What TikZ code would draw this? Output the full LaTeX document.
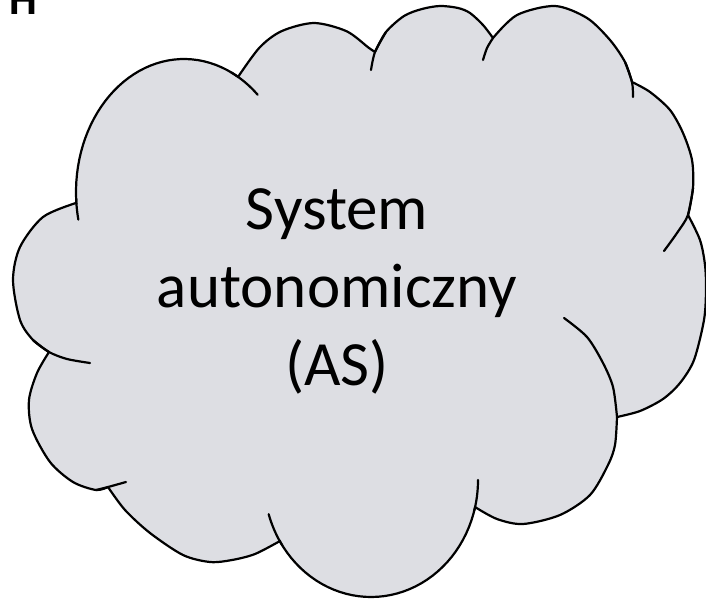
\documentclass[tikz,border=0pt]{standalone}
\usepackage{fontspec}
\setmainfont{Carlito}
\definecolor{cloudfill}{RGB}{221,222,227}
\begin{document}
\begin{tikzpicture}[x=1pt,y=-1pt,
  cloudline/.style={line width=2.2pt, line join=round, line cap=round, draw=black},
  lbl/.style={font=\fontsize{63}{76}\selectfont, inner sep=0pt, anchor=base, text=black}]
\useasboundingbox (0,0) rectangle (706,599);
\begin{scope}
\clip (0,0) rectangle (706,599);
\node[font=\fontsize{44}{50}\selectfont\bfseries, inner sep=0pt, anchor=base west] (hl) at (9,15) {H};
% cloud body
\path[cloudline, fill=cloudfill]
 plot[domain=175:300, samples=40] ({184+108*cos(\x)},{192+133*sin(\x)})
 -- plot[smooth] coordinates {(238,77)(259.5,47.6)(281.5,31.2)(314,23)(346.5,31.2)(368.5,47.6)(375,52)}
 -- plot[smooth] coordinates {(375,52)(386,32)(404,16)(422,9)(440,6)(458,8)(470,13)(483,25)(493,38)}
 -- plot[smooth] coordinates {(493,38)(517,15)(555,6)(587,18)(610,40)(625,62)(632,82)}
 -- plot[smooth] coordinates {(632,82)(650,92)(670,110)(683,133)(692,160)(693,188)(688,215)}
 -- plot[smooth] coordinates {(688,215)(700,240)(705,265)(706,290)(704,320)(694,360)(680,383)(663,399)(640,411)(617,417)}
 -- plot[smooth] coordinates {(617,417)(615,445)(608,465)(590,495)(560,515)(523,524)(497,519)(475,507)}
 -- plot[domain=13.4:148.6, samples=40] ({371+107*cos(\x)},{480+117*sin(\x)})
 -- plot[smooth] coordinates {(280,541)(255,554)(232,560)(210,562)(183,555)(150,533)(125,510)(108,487)}
 -- plot[smooth] coordinates {(108,487)(96,490)(73,482)(50,462)(32,429)(29,400)(37,373)(49,352)}
 -- plot[smooth] coordinates {(49,352)(33,340)(20,320)(13,280)(20,247)(43,217)(76,203)}
 -- cycle;
% inner ticks
\draw[cloudline] plot[domain=168:177, samples=10] ({184+108*cos(\x)},{192+133*sin(\x)});
\draw[cloudline] plot[domain=296:313, samples=12] ({184+108*cos(\x)},{192+133*sin(\x)});
\draw[cloudline] plot[smooth] coordinates {(371,70)(375,52)(386,32)};
\draw[cloudline] plot[smooth] coordinates {(483,60)(487,48)(493,38)};
\draw[cloudline] plot[smooth] coordinates {(625,62)(632,82)(633,97)};
\draw[cloudline] plot[smooth] coordinates {(693,188)(688,215)(677,233)(664,251)};
\draw[cloudline] plot[smooth] coordinates {(564,318)(587,337)(603,363)(613,387)(617,417)};
\draw[cloudline] plot[domain=0:15, samples=10] ({371+107*cos(\x)},{480+117*sin(\x)});
\draw[cloudline] plot[domain=146:163, samples=10] ({371+107*cos(\x)},{480+117*sin(\x)});
\draw[cloudline] plot[smooth] coordinates {(96,490)(108,487)(126,482)};
\draw[cloudline] plot[smooth] coordinates {(33,340)(49,352)(67,359)(90,363)};
\end{scope}
\node[lbl] (l1) at (337,229) {System};
\node[lbl] (l2) at (337,307) {autonomiczny};
\node[lbl] (l3) at (337,385) {(AS)};
\end{tikzpicture}
\end{document}
